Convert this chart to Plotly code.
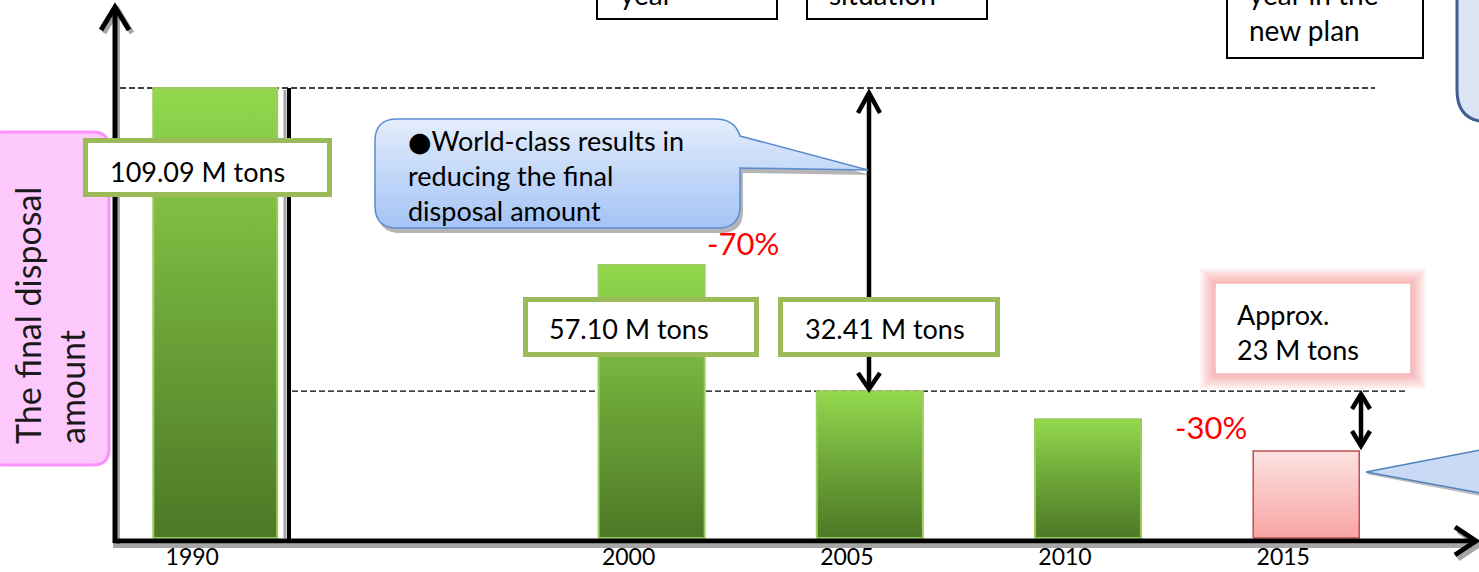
import math
import plotly.graph_objects as go

# ---------------- data ----------------
years = [1990, 2000, 2005, 2010, 2015]
tick_labels = ["1990", "2000", "2005", "2010", "2015"]
# drawn bar heights as pictured (the original chart is not drawn to scale)
bar_heights = [109.09, 66.2, 35.6, 28.8, 21.1]
value_labels = ["109.09 M tons", "57.10 M tons", "32.41 M tons"]
target_label = "Approx.<br>23 M tons"
reduction_labels = ["-70%", "-30%"]
y_title = "The final disposal<br>amount"
callout_lines = ["World-class results in", "reducing the final", "disposal amount"]
top_box_texts = ["year", "situation", "year in the<br>new plan"]

# ---------------- layout geometry / styles ----------------
W, H = 1479, 572
PH = 541  # plot area height (bottom margin 31)
FONT = "Lato, 'Noto Sans', sans-serif"
X_RANGE = [1985.068, 2018.959]
Y_RANGE = [-0.727, 130.42]
bar_width_years = [2.84, 2.43, 2.43, 2.43, 2.43]
green_scale = [[0, "#4d7826"], [0.5, "#6da639"], [1, "#93d84d"]]
pink_scale = [[0, "#f9a4a4"], [1, "#fde1e1"]]


def px(x):
    return x / W


def py(y):
    return (PH - y) / PH


def P(x, y):
    return f"{px(x):.5f},{py(y):.5f}"


def rounded_rect(x0, y0, x1, y1, r):
    return (f"M {P(x0 + r, y0)} L {P(x1 - r, y0)} Q {P(x1, y0)} {P(x1, y0 + r)} "
            f"L {P(x1, y1 - r)} Q {P(x1, y1)} {P(x1 - r, y1)} L {P(x0 + r, y1)} "
            f"Q {P(x0, y1)} {P(x0, y1 - r)} L {P(x0, y0 + r)} Q {P(x0, y0)} {P(x0 + r, y0)} Z")


shapes = []


def add_line(x0, y0, x1, y1, color="black", width=5, layer="above"):
    shapes.append(dict(type="line", xref="paper", yref="paper",
                       x0=px(x0), y0=py(y0), x1=px(x1), y1=py(y1),
                       line=dict(color=color, width=width), layer=layer))


def add_chevron(tip, a, b, color="black", width=5):
    shapes.append(dict(type="path", xref="paper", yref="paper",
                       path=f"M {P(*a)} L {P(*tip)} L {P(*b)}",
                       line=dict(color=color, width=width)))


def add_rect(x0, y0, x1, y1, line_color, line_width, fill, layer="above"):
    shapes.append(dict(type="rect", xref="paper", yref="paper",
                       x0=px(x0), y0=py(y0), x1=px(x1), y1=py(y1),
                       line=dict(color=line_color, width=line_width),
                       fillcolor=fill, layer=layer))


def add_path(path, line_color, line_width, fill, layer="above"):
    shapes.append(dict(type="path", xref="paper", yref="paper", path=path,
                       line=dict(color=line_color, width=line_width),
                       fillcolor=fill, layer=layer))


def poly_path(pts, close=True):
    s = "M " + " L ".join(P(x, y) for x, y in pts)
    return s + (" Z" if close else "")


def quad(p0, c, p1, n=8):
    out = []
    for i in range(1, n + 1):
        t = i / n
        x = (1 - t) ** 2 * p0[0] + 2 * (1 - t) * t * c[0] + t ** 2 * p1[0]
        y = (1 - t) ** 2 * p0[1] + 2 * (1 - t) * t * c[1] + t ** 2 * p1[1]
        out.append((x, y))
    return out


def clip_half(poly, yv, keep_below):
    out = []
    n = len(poly)
    for i in range(n):
        a, b = poly[i], poly[(i + 1) % n]
        ina = (a[1] >= yv) if keep_below else (a[1] <= yv)
        inb = (b[1] >= yv) if keep_below else (b[1] <= yv)
        if ina:
            out.append(a)
        if ina != inb:
            t = (yv - a[1]) / (b[1] - a[1])
            out.append((a[0] + t * (b[0] - a[0]), yv))
    return out


def mix(c0, c1, t):
    return "rgb(" + ",".join(str(round(c0[k] + (c1[k] - c0[k]) * t)) for k in range(3)) + ")"


fig = go.Figure()

# ---------------- bars (gradient filled) ----------------
for i, (yr, h) in enumerate(zip(years, bar_heights)):
    w = bar_width_years[i]
    is_target = (yr == years[-1])
    fig.add_trace(go.Scatter(
        x=[yr - w / 2, yr + w / 2, yr + w / 2, yr - w / 2, yr - w / 2],
        y=[0, 0, h, h, 0],
        mode="lines", fill="toself",
        line=dict(color="#c0504d" if is_target else "#9ccc5f", width=1.5 if is_target else 2),
        fillgradient=dict(type="vertical", colorscale=pink_scale if is_target else green_scale,
                          start=0, stop=h),
        hoverinfo="skip", showlegend=False))

# ---------------- dashed reference lines (at data levels) ----------------
shapes.append(dict(type="line", xref="paper", yref="y", x0=px(120), x1=px(1375),
                   y0=bar_heights[0], y1=bar_heights[0],
                   line=dict(color="black", width=1.3, dash="6px,3px"), layer="below"))
shapes.append(dict(type="line", xref="paper", yref="y", x0=px(292), x1=px(1405),
                   y0=bar_heights[2], y1=bar_heights[2],
                   line=dict(color="black", width=1.3, dash="6px,3px"), layer="below"))

# ---------------- pink y-title box ----------------
add_path(rounded_rect(-12, 132, 109, 465, 16), "#fa90fa", 3, "#fdc9fd", layer="below")

# ---------------- axes with arrow heads ----------------
SH = "#a6a6a6"
add_line(118, 546, 118, 14, SH, 4)
add_chevron((118, 10), (104, 33), (132, 33), SH, 5)
add_line(113, 546, 1472, 546, SH, 4)
add_chevron((1479, 545), (1458, 531), (1458, 559), SH, 5)
add_line(115, 543, 115, 8)
add_chevron((115, 7), (101, 30), (129, 30))
add_line(113, 541, 1474, 541)
add_chevron((1476, 541), (1455, 527), (1455, 555))

# line beside the 1990 bar
add_line(285, 90, 285, 538, SH, 3)
add_line(289, 88, 289, 541, "black", 4)

# big double arrow (-70%)
add_line(869, 96, 869, 386, "black", 4.5)
add_chevron((869, 93), (858, 113), (880, 113), "black", 4.5)
add_chevron((869, 389), (858, 373), (880, 373), "black", 4.5)

# small double arrow (-30%)
add_line(1361, 396, 1361, 444, "black", 4.5)
add_chevron((1361, 394), (1352, 409), (1370, 409), "black", 4.5)
add_chevron((1361, 446), (1352, 431), (1370, 431), "black", 4.5)


# ---------------- callout bubble (gradient via clipped bands) ----------------
def bubble_poly(dx=0, dy=0):
    x0, y0, x1, y1, r = 375 + dx, 119 + dy, 740 + dx, 228 + dy, 22
    pts = [(x0 + r, y0), (x1 - 25, y0)]
    pts += quad((x1 - 25, y0), (x1 - 5, y0), (x1, y0 + 17))
    pts += [(868 + dx, 170 + dy), (x1, y0 + 49), (x1, y1 - r)]
    pts += quad((x1, y1 - r), (x1, y1), (x1 - r, y1))
    pts += [(x0 + r, y1)]
    pts += quad((x0 + r, y1), (x0, y1), (x0, y1 - r))
    pts += [(x0, y0 + r)]
    pts += quad((x0, y0 + r), (x0, y0), (x0 + r, y0))[:-1]
    return pts


add_path(poly_path(bubble_poly(3, 5)), "rgba(0,0,0,0)", 0, "rgba(90,90,90,0.45)")
base = bubble_poly()
top_c, bot_c = (228, 237, 251), (164, 196, 246)
NB = 18
for k in range(NB):
    ya = 119 + (228 - 119) * k / NB - 0.6
    yb = 119 + (228 - 119) * (k + 1) / NB + 0.6
    band = clip_half(clip_half(base, ya, True), yb, False)
    if len(band) >= 3:
        add_path(poly_path(band), "rgba(0,0,0,0)", 0, mix(top_c, bot_c, (k + 0.5) / NB))
add_path(poly_path(base), "#5b8bd0", 1.5, "rgba(0,0,0,0)")

# right-side callout tail from the 2015 bar and blue box at right edge
add_path(f"M {P(1366, 474)} L {P(1486, 452)} L {P(1486, 497)} Z", "rgba(0,0,0,0)", 0,
         "rgba(90,90,90,0.4)")
add_path(f"M {P(1366, 472)} L {P(1486, 449)} L {P(1486, 494)} Z", "#4f81bd", 1.5, "#c8daf6")
add_path(f"M {P(1457, -20)} L {P(1457, 90)} Q {P(1457, 122)} {P(1489, 122)} "
         f"L {P(1500, 122)} L {P(1500, -20)} Z", "#3f5f92", 3, "#dbe5f4")

# ---------------- top boxes (cut off by the top edge, as in the original) ----------------
add_rect(597, -80, 777, 19, "black", 2, "white")
add_rect(807, -80, 987, 19, "black", 2, "white")
add_rect(1227, -80, 1423, 58, "black", 2, "white")

# ---------------- value label boxes ----------------
GREEN_BOX = "#9bbb59"
add_rect(85.5, 140.5, 329.5, 194.5, GREEN_BOX, 5, "white")
add_rect(525.5, 299.5, 756.5, 354.5, GREEN_BOX, 5, "white")
add_rect(780.5, 299.5, 997.5, 354.5, GREEN_BOX, 5, "white")

# glowing target box
for pad in [15, 13, 11, 9, 7, 5, 3]:
    add_rect(1215 - pad, 283 - pad, 1411 + pad, 374 + pad, "rgba(0,0,0,0)", 0,
             "rgba(240,105,105,0.075)")
add_rect(1215, 283, 1411, 374, "#f6b8b8", 1.5, "white")

# ---------------- annotations ----------------
ann = []


def text(x, y, s, size, color="black", xanchor="left", align="left", angle=0):
    ann.append(dict(x=px(x), y=py(y), xref="paper", yref="paper", text=s, showarrow=False,
                    xanchor=xanchor, yanchor="middle", align=align, textangle=angle,
                    font=dict(family=FONT, size=size, color=color)))


bullet = '<span style="font-family:DejaVu Sans;font-size:27px">●</span>'
text(108, 171, value_labels[0], 27)
text(547, 329, value_labels[1], 27)
text(803, 329, value_labels[2], 27)
text(1235, 332, target_label, 27)
text(743, 243, reduction_labels[0], 31, "#ff0000", xanchor="center")
text(1211, 427, reduction_labels[1], 31, "#ff0000", xanchor="center")
text(406, 175, bullet + "<br>".join(callout_lines), 27)
text(49, 316, y_title, 34, "#1a1a1a", xanchor="center", angle=-90)
text(618, -6, top_box_texts[0], 28)
text(827, -6, top_box_texts[1], 28)
text(1247, 12, top_box_texts[2], 28)

fig.update_layout(
    width=W, height=H,
    margin=dict(l=0, r=0, t=0, b=H - PH, pad=0),
    paper_bgcolor="white", plot_bgcolor="white",
    showlegend=False,
    xaxis=dict(range=X_RANGE, tickvals=years, ticktext=tick_labels, showgrid=False,
               zeroline=False, showline=False, ticks="", ticklabelshift=-23,
               tickfont=dict(family=FONT, size=23, color="black"), fixedrange=True),
    yaxis=dict(range=Y_RANGE, visible=False, fixedrange=True),
    shapes=shapes,
    annotations=ann,
)

fig.write_html("out.html", config={"displayModeBar": False},
               post_script="document.body.style.margin='0';")
